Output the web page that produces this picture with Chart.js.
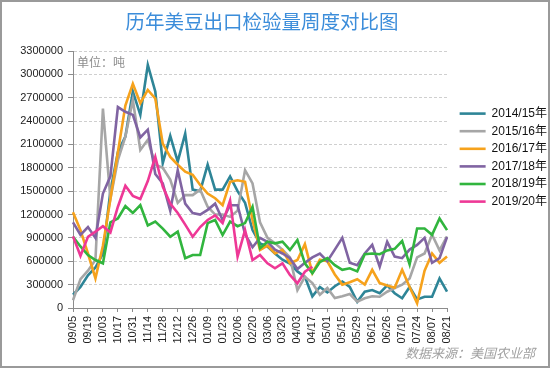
<!DOCTYPE html>
<html>
<head>
<meta charset="utf-8">
<script src="https://cdn.jsdelivr.net/npm/chart.js@4.4.1/dist/chart.umd.min.js"></script>
<style>
  html, body { margin: 0; padding: 0; background: #fff; }
  #wrap { position: relative; width: 550px; height: 368px; }
  #frame { position: absolute; left: 0; top: 0; width: 550px; height: 368px; box-sizing: border-box; border: 2px solid #9a9a9a; pointer-events: none; }
  canvas { display: block; background: #fff; }
</style>
</head>
<body>
<div id="wrap">
  <canvas id="soyChart" width="550" height="368"></canvas>
  <div id="frame"></div>
</div>
<script>
// weekly inspection dates (marketing year starts in September)
const weeks = [
  "09/05", "09/12", "09/19", "09/26", "10/03", "10/10", "10/17", "10/24", "10/31",
  "11/07", "11/14", "11/21", "11/28", "12/05", "12/12", "12/19", "12/26",
  "01/02", "01/09", "01/16", "01/23", "01/30", "02/06", "02/13", "02/20", "02/27",
  "03/06", "03/13", "03/20", "03/27", "04/03", "04/10", "04/17", "04/24",
  "05/01", "05/08", "05/15", "05/22", "05/29", "06/05", "06/12", "06/19", "06/26",
  "07/03", "07/10", "07/17", "07/24", "07/31", "08/07", "08/14", "08/21"
];

const seriesNames = ["2014/15年", "2015/16年", "2016/17年", "2017/18年", "2018/19年", "2019/20年"];
const seriesColors = ["#2E8597", "#A6A6A6", "#F6A21C", "#8064A2", "#31B53E", "#EE3896"];

// tonnes
const my2014 = [
  170000, 270000, 420000, 520000, 700000, 1500000, 2000000, 2200000, 2780000,
  2480000, 3120000, 2780000, 1860000, 2210000, 1880000, 2240000, 1520000,
  1500000, 1840000, 1520000, 1520000, 1690000, 1500000, 1350000, 1000000, 830000,
  790000, 700000, 620000, 570000, 470000, 400000, 150000, 270000,
  200000, 280000, 340000, 270000, 80000, 210000, 230000, 190000, 290000,
  190000, 125000, 270000, 110000, 145000, 145000, 380000, 210000
];
const my2015 = [
  100000, 370000, 480000, 620000, 2560000, 1400000, 1900000, 2200000, 2670000,
  2030000, 2160000, 1840000, 1800000, 1650000, 1350000, 1450000, 1450000,
  1520000, 1300000, 1200000, 1200000, 1170000, 1250000, 1770000, 1600000, 1100000,
  900000, 830000, 750000, 650000, 230000, 400000, 320000, 170000,
  257000, 128000, 150000, 180000, 81000, 125000, 150000, 145000, 209000,
  257000, 300000, 380000, 650000, 700000, 940000, 740000, 920000
];
const my2016 = [
  1230000, 1000000, 700000, 380000, 800000, 1400000, 2000000, 2600000, 2880000,
  2630000, 2800000, 2690000, 2110000, 1940000, 1840000, 1750000, 1710000,
  1580000, 1470000, 1410000, 1320000, 1620000, 1640000, 1620000, 1130000, 745000,
  800000, 700000, 745000, 574000, 616000, 820000, 450000, 620000,
  600000, 430000, 300000, 330000, 370000, 300000, 490000, 320000, 290000,
  260000, 490000, 270000, 60000, 480000, 700000, 580000, 660000
];
const my2017 = [
  1100000, 940000, 1040000, 900000, 1470000, 1690000, 2580000, 2520000, 2480000,
  2190000, 2290000, 1720000, 1600000, 1250000, 1770000, 1340000, 1220000,
  1200000, 1260000, 1340000, 1130000, 1320000, 1320000, 950000, 780000, 900000,
  850000, 750000, 700000, 640000, 500000, 580000, 650000, 700000,
  600000, 750000, 900000, 580000, 550000, 700000, 810000, 530000, 850000,
  660000, 640000, 750000, 810000, 900000, 580000, 640000, 910000
];
const my2018 = [
  915000, 790000, 680000, 616000, 574000, 1100000, 1150000, 1310000, 1220000,
  1320000, 1060000, 1110000, 1020000, 915000, 980000, 640000, 680000,
  680000, 1090000, 1130000, 937000, 1110000, 1050000, 1090000, 1300000, 766000,
  851000, 830000, 851000, 745000, 873000, 574000, 445000, 590000,
  640000, 550000, 490000, 510000, 470000, 690000, 700000, 690000, 740000,
  760000, 860000, 560000, 1020000, 1020000, 940000, 1150000, 1000000
];
const my2019 = [
  920000, 670000, 915000, 980000, 1050000, 970000, 1300000, 1570000, 1440000,
  1400000, 1630000, 1940000, 1560000, 1340000, 1220000, 1070000, 915000,
  1040000, 1130000, 1190000, 1090000, 1380000, 659000, 1000000, 616000, 680000,
  574000, 510000, 574000, 424000, 317000, 466000, 530000
];

const seriesValues = [my2014, my2015, my2016, my2017, my2018, my2019];

const titleText = "历年美豆出口检验量周度对比图";
const unitText = "单位：吨";
const sourceText = "数据来源：美国农业部";

const latinFont = '"Liberation Sans", "Noto Sans CJK SC", sans-serif';

// title, unit label inside the plot, source note at the bottom right
const notesPlugin = {
  id: "notes",
  afterDraw(chart) {
    const { ctx, chartArea } = chart;
    ctx.save();
    ctx.font = '19.5px "Noto Sans CJK SC"';
    ctx.fillStyle = "#3C8DDA";
    ctx.textAlign = "center";
    ctx.textBaseline = "middle";
    ctx.fillText(titleText, 262, 22);

    ctx.font = '12px "Noto Sans CJK SC"';
    ctx.fillStyle = "#8c8c8c";
    ctx.textAlign = "left";
    ctx.fillText(unitText, chartArea.left + 4, chartArea.top + 11);

    ctx.font = 'italic 13px "Noto Sans CJK SC"';
    ctx.textAlign = "right";
    ctx.fillStyle = "#a0a0a0";
    ctx.fillText(sourceText, chart.width - 15, chart.height - 15);
    ctx.restore();
  },
};

// move the legend off the plot edge and down to its place
const legendPlace = {
  id: "legendPlace",
  afterLayout(chart) {
    chart.legend.left += 7;
    chart.legend.right += 7;
    chart.legend.top += 51;
  },
};

const datasets = seriesNames.map((name, i) => ({
  label: name,
  data: seriesValues[i],
  borderColor: seriesColors[i],
  backgroundColor: seriesColors[i],
  borderWidth: 2.6,
  pointRadius: 0,
  tension: 0,
  order: seriesNames.length - i,
}));

new Chart(document.getElementById("soyChart"), {
  type: "line",
  data: { labels: weeks, datasets },
  plugins: [notesPlugin, legendPlace],
  options: {
    responsive: false,
    animation: false,
    devicePixelRatio: 1,
    layout: { padding: { left: 0, right: 0, top: 51, bottom: 24 } },
    scales: {
      x: {
        type: "category",
        afterFit: (scale) => { scale.height = 36; },
        grid: {
          drawOnChartArea: false,
          tickLength: 4,
          tickColor: (ctx) => (ctx.index % 2 === 0 ? "#8c8c8c" : "rgba(0,0,0,0)"),
        },
        border: { color: "#8c8c8c", width: 1 },
        ticks: {
          autoSkip: false,
          maxRotation: 90,
          minRotation: 90,
          padding: 4,
          color: "#222",
          font: { family: latinFont, size: 11 },
          callback: function (value, index) {
            return index % 2 === 0 ? this.getLabelForValue(value) : "";
          },
        },
      },
      y: {
        min: 0,
        max: 3300000,
        afterFit: (scale) => { scale.width = 73; },
        grid: {
          color: "#cfcfcf",
          tickLength: 5,
          tickColor: "#8c8c8c",
          tickBorderDash: [],
        },
        border: { color: "#8c8c8c", width: 1, dash: [3, 2] },
        ticks: {
          stepSize: 300000,
          padding: 5,
          color: "#222",
          font: { family: latinFont, size: 11 },
          callback: (v) => String(v),
        },
      },
    },
    plugins: {
      title: { display: false },
      legend: {
        position: "right",
        align: "start",
        reverse: true,
        labels: {
          usePointStyle: true,
          pointStyle: "line",
          pointStyleWidth: 26,
          padding: 5.6,
          color: "#111",
          font: { family: latinFont, size: 12 },
        },
      },
      tooltip: { enabled: false },
    },
  },
});
</script>
</body>
</html>
